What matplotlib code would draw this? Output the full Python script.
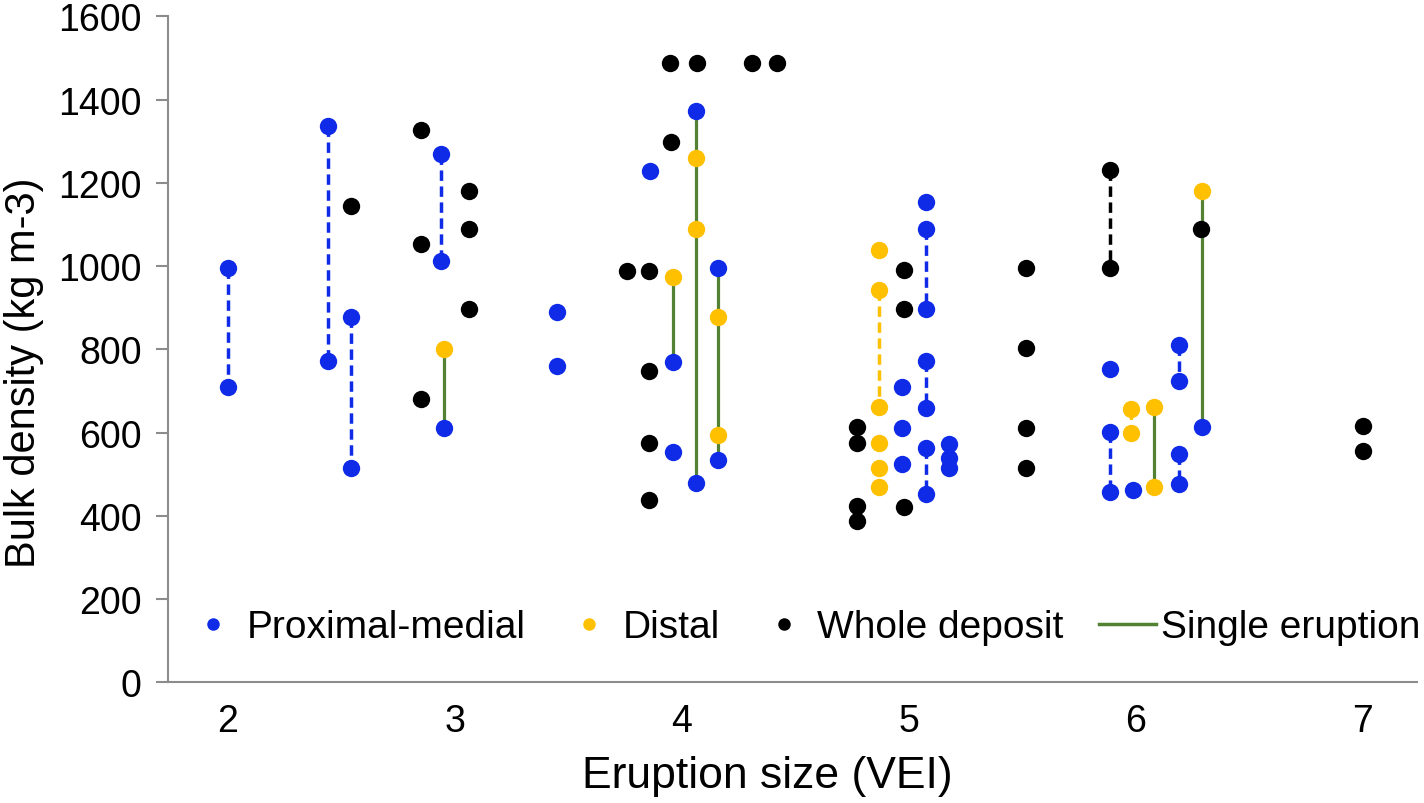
import matplotlib
matplotlib.use("Agg")
import matplotlib.pyplot as plt
from matplotlib.lines import Line2D

plt.rcParams['font.family'] = ['Liberation Sans', 'DejaVu Sans']

# proximal-medial samples (blue)
prox_x = [2.0, 2.0, 2.44, 2.44, 2.54, 2.54, 2.94, 2.94, 2.95, 3.45, 3.45,
          3.86, 3.96, 3.96, 4.06, 4.06, 4.16, 4.16, 4.97, 4.97, 4.97,
          5.075, 5.075, 5.075, 5.075, 5.075, 5.075, 5.075, 5.175, 5.175, 5.175,
          5.887, 5.887, 5.887, 5.987, 6.19, 6.19, 6.19, 6.19, 6.29]
prox_y = [995, 710, 1337, 771, 878, 514, 1270, 1012, 610, 890, 759,
          1228, 769, 553, 1372, 480, 995, 534, 709, 611, 525,
          1155, 1090, 897, 773, 659, 563, 452, 573, 540, 514,
          753, 602, 458, 462, 810, 724, 548, 477, 613]

# distal samples (yellow)
distal_x = [2.95, 3.96, 4.06, 4.06, 4.16, 4.16, 4.87, 4.87, 4.87, 4.87, 4.87, 4.87,
            5.98, 5.98, 6.08, 6.08, 6.29]
distal_y = [802, 974, 1260, 1089, 878, 595, 1039, 943, 661, 575, 516, 470,
            657, 600, 661, 469, 1180]

# whole deposit samples (black)
whole_x = [2.54, 2.85, 2.85, 2.85, 3.06, 3.06, 3.06, 3.756, 3.856, 3.856, 3.856, 3.856,
           3.952, 3.946, 4.066, 4.307, 4.418, 4.77, 4.77, 4.77, 4.77, 4.98, 4.98, 4.98,
           5.515, 5.515, 5.515, 5.515, 5.886, 5.886, 6.288, 7.0, 7.0]
whole_y = [1144, 1327, 1054, 681, 1180, 1090, 896, 988, 988, 747, 575, 439,
           1298, 1488, 1488, 1488, 1488, 614, 576, 423, 388, 991, 897, 422,
           995, 803, 611, 516, 1231, 995, 1089, 616, 555]

# connecting lines: x, top, bottom
prox_link = [(2.0, 995, 710), (2.44, 1337, 771), (2.54, 878, 514), (2.94, 1270, 1012),
             (5.075, 1090, 897), (5.075, 773, 659), (5.075, 563, 452),
             (5.887, 602, 458), (6.19, 810, 724), (6.19, 548, 477)]
distal_link = [(4.87, 943, 661), (5.98, 657, 600)]
whole_link = [(5.886, 1231, 995)]
single_link = [(2.95, 802, 610), (3.96, 974, 769), (4.06, 1372, 480),
               (4.16, 995, 534), (6.08, 661, 469), (6.29, 1180, 613)]

blue = '#0F2BE8'
yellow = '#FFC000'
green = '#548235'

fig = plt.figure(figsize=(14.24, 8.04), dpi=100)
ax = fig.add_axes([0.118, 0.150, 0.877, 0.8285])

dash = (0, (3, 1.6))
for x, a, b in prox_link:
    ax.plot([x, x], [a, b], color=blue, lw=2.5, linestyle=dash, zorder=1)
for x, a, b in distal_link:
    ax.plot([x, x], [a, b], color=yellow, lw=2.5, linestyle=dash, zorder=1)
for x, a, b in whole_link:
    ax.plot([x, x], [a, b], color='black', lw=2.5, linestyle=dash, zorder=1)
for x, a, b in single_link:
    ax.plot([x, x], [a, b], color=green, lw=2.3, zorder=1)

ax.plot(prox_x, prox_y, 'o', color=blue, ms=12.5, mec='none', zorder=3)
ax.plot(distal_x, distal_y, 'o', color=yellow, ms=12.5, mec='none', zorder=3)
ax.plot(whole_x, whole_y, 'o', color='black', ms=12.5, mec='none', zorder=3)

ax.set_xlim(1.736, 7.238)
ax.set_ylim(0, 1600)
ax.set_xticks([2, 3, 4, 5, 6, 7])
ax.set_yticks(range(0, 1601, 200))
ax.tick_params(axis='x', length=0, labelsize=27, pad=15)
ax.tick_params(axis='y', length=9, width=1.5, color='#8c8c8c', labelsize=27, pad=10)
for s in ['top', 'right']:
    ax.spines[s].set_visible(False)
for s in ['left', 'bottom']:
    ax.spines[s].set_color('#8c8c8c')
    ax.spines[s].set_linewidth(1.5)

ax.set_xlabel('Eruption size (VEI)', fontsize=32, labelpad=11)
ax.set_ylabel('Bulk density (kg m-3)', fontsize=30, labelpad=10)
ax.xaxis.label.set_x(0.48)
ax.yaxis.label.set_y(0.466)

handles = [
    Line2D([], [], marker='o', ls='none', color=blue, ms=9, mec='none'),
    Line2D([], [], marker='o', ls='none', color=yellow, ms=9, mec='none'),
    Line2D([], [], marker='o', ls='none', color='black', ms=9, mec='none'),
    Line2D([], [], color=green, lw=2.5),
]
labels = ['Proximal-medial', 'Distal', 'Whole deposit', 'Single eruption']
ax.legend(handles, labels, loc='center', bbox_to_anchor=(0.508, 0.083), ncol=4,
          frameon=False, fontsize=28, handlelength=1.47, handletextpad=0.13,
          columnspacing=0.9, borderaxespad=0)

fig.savefig('out.png', dpi=100)
